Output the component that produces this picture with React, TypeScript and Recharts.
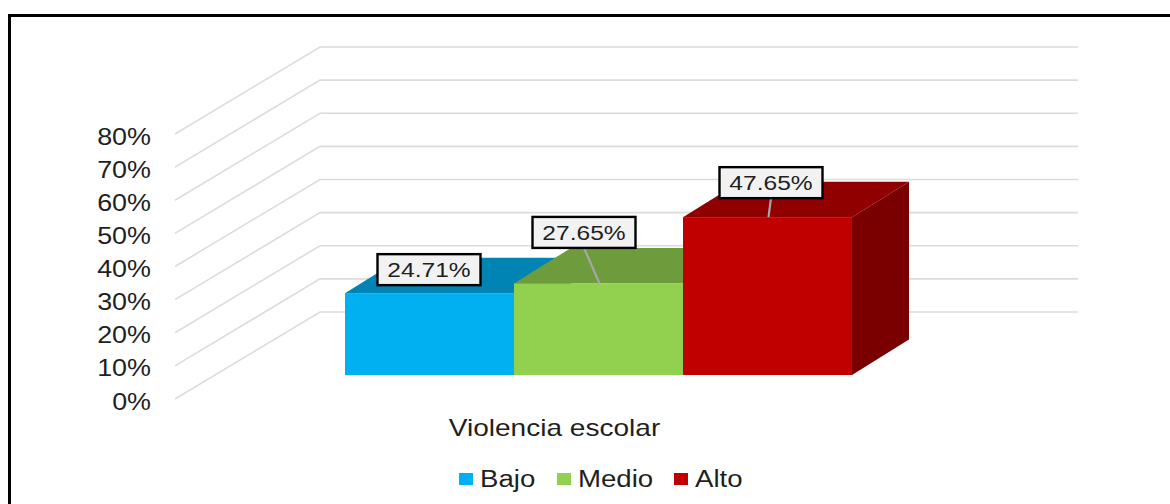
import React from 'react';
import { BarChart, Bar, XAxis, YAxis, CartesianGrid, Legend, LabelList } from 'recharts';

const categories = ['Violencia escolar'];
const bajoValues = [24.71];
const medioValues = [27.65];
const altoValues = [47.65];
const yTicks = [0, 10, 20, 30, 40, 50, 60, 70, 80];
const seriesNames = ['Bajo', 'Medio', 'Alto'];

const chartData = categories.map((name, i) => ({
  name,
  Bajo: bajoValues[i],
  Medio: medioValues[i],
  Alto: altoValues[i],
}));

const FONT = '"Liberation Sans", Arial, sans-serif';
const TEXT = '#1f1f1f';
const WALL_DX = 145;
const WALL_DY = 87;
const BAR_DX = 44;
const BAR_DY = 24;
const DEPTH_DX = 57;
const DEPTH_DY = 35.5;

const palettes: Record<string, { front: string; top: string; side: string }> = {
  Bajo: { front: '#00b0f0', top: '#0084b4', side: '#00769f' },
  Medio: { front: '#92d050', top: '#6e9c3c', side: '#5f8a34' },
  Alto: { front: '#c00000', top: '#900000', side: '#7a0000' },
};

const labelBoxes: Record<string, { dx: number; dy: number; leader: boolean }> = {
  Bajo: { dx: -0.5, dy: -23.5, leader: false },
  Medio: { dx: -14.5, dy: -51, leader: true },
  Alto: { dx: 3.5, dy: -34.5, leader: true },
};

const gridLine = (props: any) => {
  const { x1, x2, y1, key } = props;
  return (
    <polyline
      key={key}
      points={`${x1},${y1} ${x1 + WALL_DX},${y1 - WALL_DY} ${x2 + WALL_DX},${y1 - WALL_DY}`}
      fill="none"
      stroke="#dcdcdc"
      strokeWidth={1.6}
    />
  );
};

const box3d = (name: string) => (props: any) => {
  const { x, y, width, height } = props;
  const c = palettes[name];
  const l = x + BAR_DX;
  const t = y - BAR_DY;
  const r = l + width;
  const b = t + height;
  return (
    <g>
      <polygon fill={c.side} points={`${r},${t} ${r + DEPTH_DX},${t - DEPTH_DY} ${r + DEPTH_DX},${b - DEPTH_DY} ${r},${b}`} />
      <polygon fill={c.top} points={`${l},${t} ${l + DEPTH_DX},${t - DEPTH_DY} ${r + DEPTH_DX},${t - DEPTH_DY} ${r},${t}`} />
      <rect x={l} y={t} width={width} height={height} fill={c.front} />
    </g>
  );
};

const dataLabel = (name: string) => (props: any) => {
  const { x, y, width, value } = props;
  const cfg = labelBoxes[name];
  const topX = x + BAR_DX + width / 2;
  const topY = y - BAR_DY;
  const cx = topX + cfg.dx;
  const cy = topY + cfg.dy;
  const w = 103;
  const h = 31;
  return (
    <g>
      {cfg.leader && (
        <line x1={cx} y1={cy + h / 2} x2={topX + 1} y2={topY} stroke="#a6a6a6" strokeWidth={2.2} />
      )}
      <rect x={cx - w / 2} y={cy - h / 2} width={w} height={h} fill="#f2f2f2" stroke="#000" strokeWidth={2.4} />
      <text
        transform={`translate(${cx},${cy + 7.5}) scale(1.17,1)`}
        textAnchor="middle"
        fontFamily={FONT}
        fontSize={21}
        fill={TEXT}
      >
        {`${Number(value).toFixed(2)}%`}
      </text>
    </g>
  );
};

const yTick = (props: any) => {
  const { x, y, payload } = props;
  return (
    <text
      transform={`translate(${x},${y + 10.5}) scale(1.17,1)`}
      textAnchor="end"
      fontFamily={FONT}
      fontSize={23}
      fill={TEXT}
    >
      {`${payload.value}%`}
    </text>
  );
};

const xTick = (props: any) => {
  const { x, y, payload } = props;
  return (
    <text
      transform={`translate(${x + 0.5},${y + 1}) scale(1.22,1)`}
      textAnchor="middle"
      fontFamily={FONT}
      fontSize={23}
      fill={TEXT}
    >
      {payload.value}
    </text>
  );
};

const legendContent = () => {
  const itemWidths = [98, 117, 90];
  return (
    <div style={{ display: 'flex', paddingLeft: 459, height: 30, alignItems: 'center' }}>
      {seriesNames.map((name, i) => (
        <div key={name} style={{ display: 'flex', alignItems: 'center', width: itemWidths[i] }}>
          <span style={{ display: 'inline-block', width: 14, height: 12, background: palettes[name].front, marginRight: 6.5 }} />
          <span
            style={{
              fontFamily: FONT,
              fontSize: 23,
              color: TEXT,
              transform: 'scaleX(1.2)',
              transformOrigin: 'left center',
              display: 'inline-block',
              lineHeight: '30px',
            }}
          >
            {name}
          </span>
        </div>
      ))}
    </div>
  );
};

export default function App() {
  return (
    <div style={{ position: 'fixed', left: 0, top: 0, width: 1170, height: 504, overflow: 'hidden', background: '#fff' }}>
      <div
        style={{
          position: 'absolute',
          left: 8,
          top: 14,
          width: 1300,
          height: 700,
          border: '3px solid #000',
          boxSizing: 'border-box',
        }}
      />
      <div style={{ position: 'absolute', left: 0, top: 0 }}>
        <BarChart
          width={1170}
          height={504}
          data={chartData}
          margin={{ top: 134, right: 237, bottom: 30, left: 5 }}
          barCategoryGap={126}
          barGap={0}
        >
          <CartesianGrid vertical={false} horizontal={gridLine} />
          <XAxis
            dataKey="name"
            axisLine={false}
            tickLine={false}
            tickSize={0}
            tickMargin={36}
            height={45}
            tick={xTick}
            interval={0}
          />
          <YAxis
            width={170}
            domain={[0, 80]}
            ticks={yTicks}
            axisLine={false}
            tickLine={false}
            tickSize={0}
            tickMargin={24}
            tick={yTick}
            interval={0}
          />
          <Legend
            height={30}
            verticalAlign="bottom"
            content={legendContent}
            wrapperStyle={{ left: 0, top: 464, width: 1170, bottom: 'auto' }}
          />
          {seriesNames.map((name) => (
            <Bar key={name} dataKey={name} isAnimationActive={false} shape={box3d(name)} fill={palettes[name].front}>
              <LabelList dataKey={name} content={dataLabel(name)} />
            </Bar>
          ))}
        </BarChart>
      </div>
    </div>
  );
}
